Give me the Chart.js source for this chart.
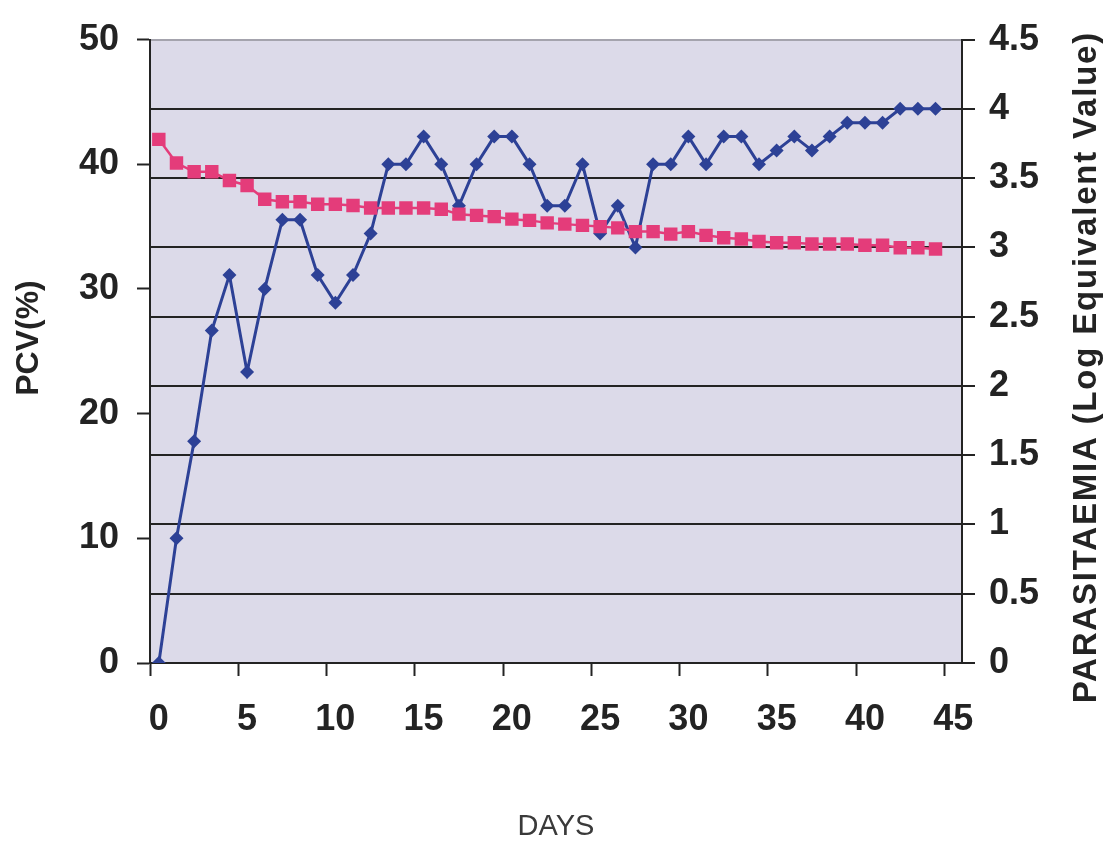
<!DOCTYPE html>
<html>
<head>
<meta charset="utf-8">
<title>PCV and parasitaemia</title>
<script src="https://cdn.jsdelivr.net/npm/chart.js@4.4.1/dist/chart.umd.min.js"></script>
<style>
  html, body { margin: 0; padding: 0; background: #fff; }
  #chart { display: block; }
</style>
</head>
<body>
<canvas id="chart" width="1105" height="844"></canvas>
<script>
// days on the x axis (day 45 only carries the last tick label)
const days = [0, 1, 2, 3, 4, 5, 6, 7, 8, 9, 10, 11, 12, 13, 14, 15, 16, 17, 18, 19, 20, 21, 22,
  23, 24, 25, 26, 27, 28, 29, 30, 31, 32, 33, 34, 35, 36, 37, 38, 39, 40, 41, 42, 43, 44, 45];

// packed cell volume, left axis
const pcv = [42.0, 40.1, 39.4, 39.4, 38.7, 38.3, 37.2, 37.0, 37.0, 36.8, 36.8, 36.7, 36.5, 36.5,
  36.5, 36.5, 36.4, 36.0, 35.9, 35.8, 35.6, 35.5, 35.3, 35.2, 35.1, 35.0, 34.9, 34.6, 34.6, 34.4,
  34.6, 34.3, 34.1, 34.0, 33.8, 33.7, 33.7, 33.6, 33.6, 33.6, 33.5, 33.5, 33.3, 33.3, 33.2];

// parasitaemia (log equivalent), right axis
const parasitaemia = [0, 0.9, 1.6, 2.4, 2.8, 2.1, 2.7, 3.2, 3.2, 2.8, 2.6, 2.8, 3.1, 3.6, 3.6,
  3.8, 3.6, 3.3, 3.6, 3.8, 3.8, 3.6, 3.3, 3.3, 3.6, 3.1, 3.3, 3.0, 3.6, 3.6, 3.8, 3.6, 3.8, 3.8,
  3.6, 3.7, 3.8, 3.7, 3.8, 3.9, 3.9, 3.9, 4.0, 4.0, 4.0];

const pcvTicks = [0, 10, 20, 30, 40, 50];
const logTicks = [0, 0.5, 1, 1.5, 2, 2.5, 3, 3.5, 4, 4.5];

const DARK = "#232323";
const PLOT_BG = "#dcdae9";
const TICK_FONT = { family: "Liberation Sans", weight: "bold", size: 36 };

// rotated side title, reading bottom to top
function sideTitle(ctx, text, x, y, size, spacing) {
    ctx.save();
    ctx.translate(x, y);
    ctx.rotate(-Math.PI / 2);
    ctx.font = "bold " + size + "px 'Liberation Sans'";
    if ("letterSpacing" in ctx) ctx.letterSpacing = spacing + "px";
    ctx.fillStyle = DARK;
    ctx.textAlign = "center";
    ctx.textBaseline = "middle";
    ctx.fillText(text, spacing / 2, 0);
    ctx.restore();
}

// plot background and the two side titles
const decor = {
    id: "decor",
    beforeDraw(chart) {
        const { ctx, chartArea: a } = chart;
        ctx.save();
        ctx.fillStyle = PLOT_BG;
        ctx.fillRect(a.left, a.top, a.right - a.left, a.bottom - a.top);
        ctx.restore();
    },
    afterDraw(chart) {
        const { ctx } = chart;
        sideTitle(ctx, "PCV(%)", 29, 338, 32, 0);
        sideTitle(ctx, "PARASITAEMIA (Log Equivalent Value)", 1087, 368, 33, 1.8);
    }
};

new Chart(document.getElementById("chart"), {
    type: "line",
    data: {
        labels: days,
        datasets: [
            {
                label: "PCV",
                data: pcv,
                yAxisID: "y",
                borderColor: "#e43c7a",
                backgroundColor: "#e43c7a",
                borderWidth: 2.5,
                pointStyle: "rect",
                pointRadius: 9.5,
                pointBorderWidth: 0,
                tension: 0
            },
            {
                label: "Parasitaemia",
                data: parasitaemia,
                yAxisID: "y2",
                borderColor: "#2d4196",
                backgroundColor: "#2d4196",
                borderWidth: 3,
                pointStyle: "rectRot",
                pointRadius: 7,
                pointBorderWidth: 0,
                tension: 0
            }
        ]
    },
    options: {
        responsive: false,
        animation: false,
        devicePixelRatio: 1,
        layout: { padding: { top: 37, left: 0, right: 0, bottom: 0 } },
        plugins: {
            legend: { display: false },
            tooltip: { enabled: false }
        },
        scales: {
            x: {
                type: "category",
                offset: true,
                afterFit: s => { s.height = 181; },
                grid: {
                    offset: true,
                    drawOnChartArea: false,
                    tickLength: 13,
                    tickWidth: 2,
                    tickColor: c => (c.index % 5 === 0 ? DARK : "rgba(0,0,0,0)")
                },
                border: { display: true, color: DARK, width: 2 },
                ticks: {
                    autoSkip: false,
                    maxRotation: 0,
                    padding: 22,
                    color: DARK,
                    font: TICK_FONT,
                    callback: (v, i) => (i % 5 === 0 ? days[i] : "")
                },
                title: {
                    display: true,
                    text: "DAYS",
                    color: "#3a3a3a",
                    font: { family: "Liberation Sans", size: 29 },
                    padding: { top: 0, bottom: 0 }
                }
            },
            y: {
                position: "left",
                min: 0,
                max: 50,
                afterFit: s => { s.width = 150; },
                afterBuildTicks: s => { s.ticks = pcvTicks.map(v => ({ value: v })); },
                grid: {
                    drawOnChartArea: false,
                    tickLength: 13,
                    tickWidth: 2,
                    tickColor: DARK
                },
                border: { display: true, color: DARK, width: 2 },
                ticks: { padding: 18, color: DARK, font: TICK_FONT }
            },
            y2: {
                position: "right",
                min: 0,
                max: 4.5,
                afterFit: s => { s.width = 143; },
                afterBuildTicks: s => { s.ticks = logTicks.map(v => ({ value: v })); },
                grid: {
                    drawOnChartArea: true,
                    lineWidth: 2,
                    color: c => (c.tick && c.tick.value === 4.5 ? "#a4a3ad" : DARK),
                    tickLength: 13,
                    tickWidth: 2,
                    tickColor: DARK
                },
                border: { display: true, color: DARK, width: 2 },
                ticks: {
                    padding: 14,
                    color: DARK,
                    font: TICK_FONT,
                    callback: v => String(v)
                }
            }
        }
    },
    plugins: [decor]
});
</script>
</body>
</html>
